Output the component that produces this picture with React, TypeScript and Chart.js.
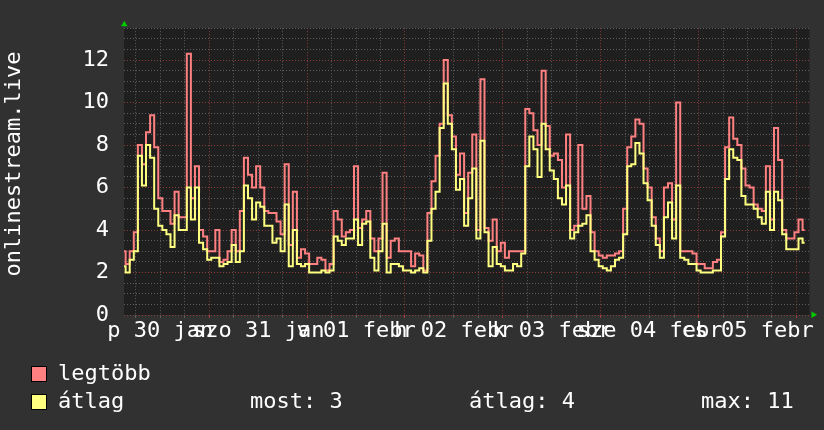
import React, { useEffect, useRef } from 'react';
import { Chart, registerables } from 'chart.js';

Chart.register(...registerables);

// hours counted from "p 30 jan" 00:00
const START_HOUR = 3;
const X_MIN = 3.1;
const X_MAX = 171.2;

const dayLabels = ['p 30 jan', 'szo 31 jan', 'v 01 febr', 'h 02 febr', 'k 03 febr', 'sze 04 febr', 'cs 05 febr'];

// legtöbb (max)
const maxValues = [
  3.0, 2.4, 3.0, 3.9, 8.0, 7.1, 8.6, 9.4, 7.9, 5.5,
  4.9, 4.9, 4.3, 5.8, 4.6, 4.6, 12.3, 5.5, 7.0, 4.0,
  3.7, 3.0, 3.0, 4.0, 2.5, 2.6, 3.0, 4.0, 3.0, 4.9,
  7.4, 6.6, 6.0, 7.0, 6.0, 4.9, 4.8, 4.8, 4.4, 3.8,
  7.1, 3.3, 5.8, 2.7, 3.1, 2.9, 2.4, 2.4, 2.7, 2.6,
  2.1, 2.4, 4.9, 4.5, 3.7, 3.9, 4.0, 7.0, 4.1, 4.5,
  4.9, 3.6, 3.0, 3.6, 6.7, 2.7, 3.5, 3.6, 3.0, 3.0,
  3.0, 2.3, 2.9, 2.8, 2.1, 4.8, 6.3, 7.5, 9.0, 12.0,
  9.4, 8.4, 6.6, 7.6, 4.8, 6.7, 8.5, 4.0, 11.1, 4.1,
  3.5, 4.5, 3.0, 3.4, 2.7, 3.0, 3.0, 3.0, 3.0, 9.7,
  9.5, 8.7, 8.0, 11.5, 8.9, 7.5, 7.6, 7.3, 6.0, 8.5,
  4.0, 4.2, 8.0, 5.0, 5.6, 3.9, 3.0, 2.8, 2.7, 2.8,
  2.8, 2.9, 3.0, 5.0, 7.9, 8.4, 9.2, 9.0, 6.9, 6.0,
  4.6, 3.6, 3.0, 6.0, 6.2, 4.5, 10.0, 3.0, 3.0, 3.0,
  2.9, 2.4, 2.4, 2.2, 2.2, 2.5, 2.6, 3.9, 7.9, 9.3,
  8.3, 8.0, 6.9, 6.1, 6.0, 5.2, 5.0, 4.9, 7.0, 4.5,
  8.8, 7.3, 4.0, 3.6, 3.6, 3.9, 4.5, 4.0,
];

// átlag (average)
const avgValues = [
  2.3, 2.0, 2.6, 3.0, 7.5, 6.1, 8.0, 7.4, 5.0, 4.2,
  4.0, 3.8, 3.2, 4.7, 4.0, 4.0, 6.0, 4.5, 6.0, 3.4,
  3.1, 2.6, 2.7, 2.7, 2.3, 2.4, 2.5, 3.3, 2.5, 3.0,
  6.1, 5.5, 4.5, 5.3, 5.1, 4.2, 4.2, 3.4, 3.6, 3.0,
  5.2, 2.3, 4.0, 2.4, 2.3, 2.4, 2.0, 2.0, 2.0, 2.1,
  2.0, 2.1, 3.7, 3.5, 3.3, 3.6, 3.6, 4.5, 3.3, 4.3,
  4.4, 2.7, 2.1, 3.0, 4.3, 2.0, 2.4, 2.4, 2.3, 2.1,
  2.1, 2.0, 2.1, 2.2, 2.0, 3.5, 5.0, 5.8, 8.8, 10.9,
  9.0, 7.8, 5.9, 6.4, 4.2, 5.5, 6.9, 3.6, 8.2, 3.9,
  2.3, 3.2, 2.4, 2.3, 2.1, 2.1, 2.4, 2.3, 2.9, 7.0,
  8.4, 7.8, 6.5, 9.0, 7.8, 6.8, 6.4, 5.5, 5.2, 6.1,
  3.6, 3.9, 4.2, 4.3, 4.7, 3.0, 2.6, 2.3, 2.2, 2.1,
  2.3, 2.6, 2.7, 3.8, 7.0, 7.1, 8.1, 7.6, 6.2, 5.4,
  4.2, 3.3, 2.7, 4.6, 5.3, 3.6, 6.1, 2.7, 2.6, 2.4,
  2.4, 2.1, 2.0, 2.0, 2.0, 2.1, 2.1, 3.7, 6.4, 7.8,
  7.4, 7.3, 5.6, 5.2, 5.2, 5.0, 4.6, 4.3, 5.8, 4.0,
  5.8, 5.4, 3.8, 3.1, 3.1, 3.1, 3.6, 3.4,
];

const legendStats = ['most: 3', 'átlag: 4', 'max: 11'];
const seriesNames = ['legtöbb', 'átlag'];
const yTitle = 'onlinestream.live';

const hours = maxValues.map((_, i) => START_HOUR + i);
const gridHours = Array.from({ length: 28 }, (_, i) => 6 + 6 * i);

const FONT = "'DejaVu Sans Mono', monospace";
const RED = '#ff8080';
const YELLOW = '#ffff80';
const BG = '#313131';
const PLOT_BG = '#1f1f1f';
const MAJOR = '#8e3c3c';
const MINOR = '#5e5e5e';

const decor = {
  id: 'decor',
  beforeDraw(chart: any) {
    const { ctx, chartArea: a, width, height } = chart;
    ctx.save();
    ctx.fillStyle = BG;
    ctx.fillRect(0, 0, width, height);
    ctx.fillStyle = PLOT_BG;
    ctx.fillRect(a.left, a.top, a.right - a.left, a.bottom - a.top);
    ctx.restore();
  },
  afterDraw(chart: any) {
    const { ctx, chartArea: a } = chart;
    ctx.save();
    ctx.font = `22px ${FONT}`;
    ctx.fillStyle = '#ffffff';
    // y title
    ctx.save();
    ctx.translate(14, 164);
    ctx.rotate(-Math.PI / 2);
    ctx.textAlign = 'center';
    ctx.textBaseline = 'middle';
    ctx.fillText(yTitle, 0, 0);
    ctx.restore();

    // arrows
    ctx.fillStyle = '#00cc00';
    ctx.beginPath();
    ctx.moveTo(a.left - 3, a.top - 2);
    ctx.lineTo(a.left + 3.5, a.top - 2);
    ctx.lineTo(a.left + 0.3, a.top - 7.5);
    ctx.closePath();
    ctx.fill();
    ctx.beginPath();
    ctx.moveTo(a.right + 2, a.bottom - 3.5);
    ctx.lineTo(a.right + 2, a.bottom + 3);
    ctx.lineTo(a.right + 7.5, a.bottom - 0.2);
    ctx.closePath();
    ctx.fill();

    // legend
    ctx.textAlign = 'left';
    ctx.textBaseline = 'middle';
    const rows = [
      { color: RED, y: 366, label: seriesNames[0] },
      { color: YELLOW, y: 394, label: seriesNames[1] },
    ];
    rows.forEach((r) => {
      ctx.fillStyle = r.color;
      ctx.fillRect(31, r.y, 16, 16);
      ctx.strokeStyle = '#000000';
      ctx.lineWidth = 1;
      ctx.strokeRect(31.5, r.y + 0.5, 15, 15);
      ctx.fillStyle = '#ffffff';
      ctx.fillText(r.label, 58, r.y + 8);
    });
    ctx.fillText(legendStats[0], 250, 402);
    ctx.fillText(legendStats[1], 469, 402);
    ctx.fillText(legendStats[2], 701, 402);
    ctx.restore();
  },
};

export default function App() {
  const ref = useRef<HTMLCanvasElement | null>(null);
  useEffect(() => {
    document.body.style.margin = '0';
    document.body.style.background = BG;
    const canvas = ref.current;
    if (!canvas) return;
    const chart = new Chart(canvas, {
      type: 'line',
      data: {
        datasets: [
          {
            label: seriesNames[1],
            data: hours.map((h, i) => ({ x: h, y: avgValues[i] })),
            borderColor: YELLOW,
            borderWidth: 2,
            pointRadius: 0,
            stepped: 'middle',
            fill: false,
          },
          {
            label: seriesNames[0],
            data: hours.map((h, i) => ({ x: h, y: maxValues[i] })),
            borderColor: RED,
            borderWidth: 2,
            pointRadius: 0,
            stepped: 'middle',
            fill: false,
          },
        ],
      },
      options: {
        animation: false,
        responsive: false,
        devicePixelRatio: 1,
        layout: { padding: { left: 0, right: 14.5, top: 14.6, bottom: 0 } },
        plugins: {
          legend: { display: false },
          tooltip: { enabled: false },
          title: { display: false },
        },
        scales: {
          x: {
            type: 'linear',
            min: X_MIN,
            max: X_MAX,
            afterBuildTicks: (scale: any) => {
              scale.ticks = gridHours.map((v) => ({ value: v }));
            },
            afterFit: (scale: any) => {
              scale.height = 115;
            },
            grid: {
              color: (c: any) => (c.tick && c.tick.value % 24 === 0 ? MAJOR : MINOR),
              tickColor: (c: any) => (c.tick && c.tick.value % 24 === 0 ? '#a04040' : MINOR),
              lineWidth: 1,
              drawTicks: true,
              tickLength: 3,
            },
            border: { display: false, dash: [1, 2] },
            ticks: {
              autoSkip: false,
              maxRotation: 0,
              minRotation: 0,
              padding: 0,
              color: '#ffffff',
              font: { family: FONT, size: 22 },
              callback: (v: any) => {
                const n = Number(v);
                if (n % 24 === 12) return dayLabels[(n - 12) / 24] || '';
                return '';
              },
            },
          },
          y: {
            min: 0,
            max: 13.5,
            afterFit: (scale: any) => {
              scale.width = 124;
            },
            grid: {
              color: (c: any) => (c.tick && c.tick.value % 2 === 0 ? MAJOR : MINOR),
              lineWidth: 1,
              drawTicks: false,
            },
            border: { display: false, dash: [1, 2] },
            ticks: {
              stepSize: 0.5,
              autoSkip: false,
              padding: 15,
              color: '#ffffff',
              font: { family: FONT, size: 22 },
              callback: (v: any) => (Number(v) % 2 === 0 ? String(v) : ''),
            },
          },
        },
      },
      plugins: [decor],
    } as any);
    return () => chart.destroy();
  }, []);
  return <canvas ref={ref} width={824} height={430} style={{ display: 'block' }} />;
}
